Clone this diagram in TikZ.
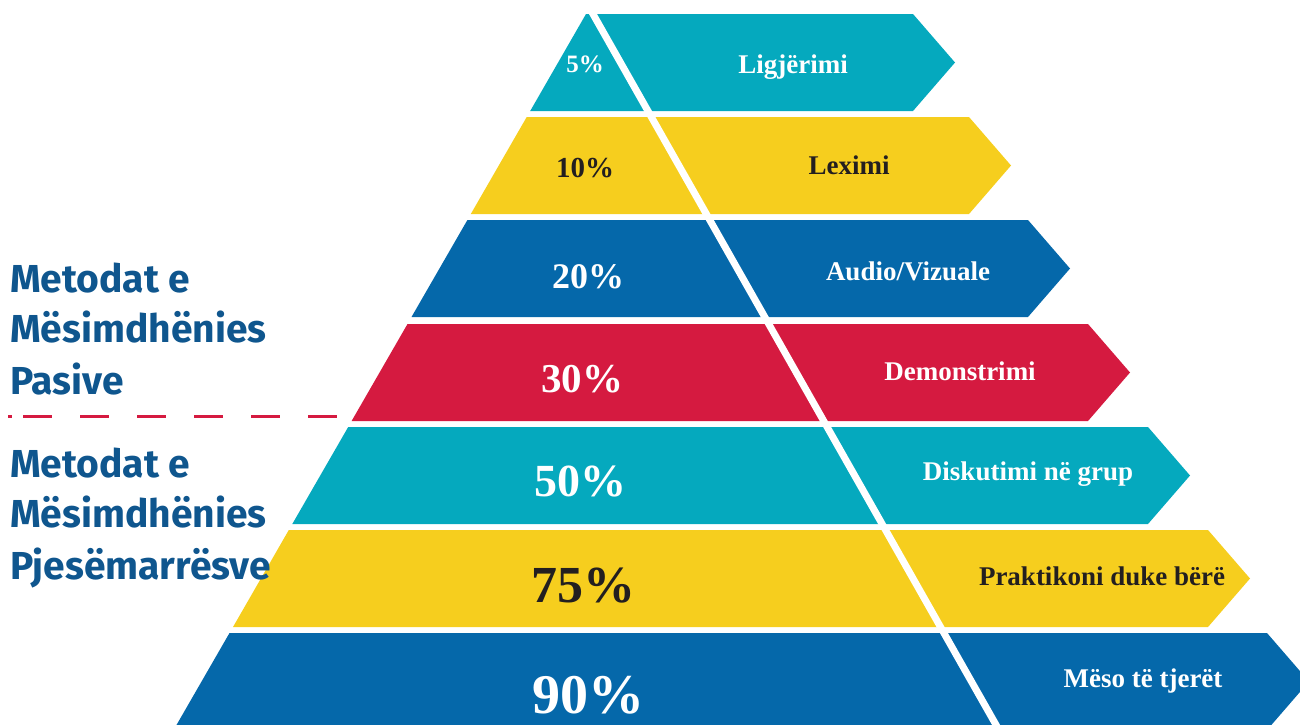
\documentclass[tikz,border=0pt]{standalone}
\usepackage{fontspec}
\setmainfont{Liberation Serif}
\setsansfont{Fira Sans}
\usepackage{tikz}
\usetikzlibrary{positioning}
\usetikzlibrary{calc}

\definecolor{pyrteal}{HTML}{05A9BE}
\definecolor{pyryellow}{HTML}{F6CE1E}
\definecolor{pyrblue}{HTML}{0568AA}
\definecolor{pyrred}{HTML}{D51A40}
\definecolor{headblue}{HTML}{0F568E}
\definecolor{darktext}{HTML}{231F20}

\tikzstyle{pct}=[inner sep=0pt, anchor=base]
\tikzstyle{lbl}=[font=\bfseries\fontsize{27}{27}\selectfont, inner sep=0pt, anchor=base]
\tikzstyle{heading}=[font=\sffamily\bfseries\fontsize{39}{51}\selectfont, text=headblue, inner sep=0pt, anchor=base west]
\tikzstyle{divider}=[white, line width=7pt]
\tikzstyle{dashline}=[pyrred, line width=3pt, dash pattern=on 4pt off 11pt on 29pt off 28pt on 29pt off 28pt on 29pt off 28pt on 29pt off 28pt on 29pt off 28pt on 29pt off 28pt]

\begin{document}
\begin{tikzpicture} [
            x=1pt, y=-1pt
        ]
        \useasboundingbox (0,0) rectangle (1300,724);
        \clip (0,0) rectangle (1300,724);
        % rows of the pyramid
        \fill[pyrteal] (586.0,14) -- (913,14) -- (955,62.5) -- (913,111) -- (530.2,111) -- cycle;
        \fill[pyryellow] (526.7,117) -- (969,117) -- (1011,165.5) -- (969,214) -- (470.8,214) -- cycle;
        \fill[pyrblue] (467.4,220) -- (1028,220) -- (1070,268.5) -- (1028,317) -- (411.5,317) -- cycle;
        \fill[pyrred] (407.5,324) -- (1088,324) -- (1130,372.5) -- (1088,421) -- (351.6,421) -- cycle;
        \fill[pyrteal] (348.2,427) -- (1148,427) -- (1190,475.5) -- (1148,524) -- (292.3,524) -- cycle;
        \fill[pyryellow] (288.8,530) -- (1208,530) -- (1250,578.5) -- (1208,627) -- (233.0,627) -- cycle;
        \fill[pyrblue] (229.5,633) -- (1267,633) -- (1309,681.5) -- (1267,730) -- (173.6,730) -- cycle;
        % white cut
        \coordinate (divtop) at (587.3,4);
        \coordinate (divbot) at (1001.2,734);
        \draw[divider] (divtop) -- (divbot);
        % percentages
        \node[pct, text=white, font=\bfseries\fontsize{25}{25}\selectfont] (p5) at (585,72) {5\%};
        \node[pct, text=darktext, font=\bfseries\fontsize{29}{29}\selectfont] (p10) at (585,177) {10\%};
        \node[pct, text=white, font=\bfseries\fontsize{36}{36}\selectfont] (p20) at (588,288) {20\%};
        \node[pct, text=white, font=\bfseries\fontsize{41}{41}\selectfont] (p30) at (582,392) {30\%};
        \node[pct, text=white, font=\bfseries\fontsize{46}{46}\selectfont] (p50) at (580,496) {50\%};
        \node[pct, text=darktext, font=\bfseries\fontsize{52}{52}\selectfont] (p75) at (583,602) {75\%};
        \node[pct, text=white, font=\bfseries\fontsize{56}{56}\selectfont] (p90) at (588,713) {90\%};
        % methods
        \node[lbl, text=white] (ligjerimi) at (793,73) {Ligjërimi};
        \node[lbl, text=darktext] (leximi) at (849,174) {Leximi};
        \node[lbl, text=white] (audio) at (908,280) {Audio/Vizuale};
        \node[lbl, text=white] (demo) at (960,380) {Demonstrimi};
        \node[lbl, text=white] (diskutimi) at (1028,480) {Diskutimi në grup};
        \node[lbl, text=darktext] (praktikoni) at (1102,585) {Praktikoni duke bërë};
        \node[lbl, text=white] (meso) at (1143,687) {Mëso të tjerët};
        % left headings
        \node[heading] (pas1) at (10,292) {Metodat e};
        \node[heading] (pas2) at (10,342) {Mësimdhënies};
        \node[heading] (pas3) at (10,394) {Pasive};
        \coordinate (dashstart) at (8,416);
        \coordinate (dashend) at (337,416);
        \draw[dashline] (dashstart) -- (dashend);
        \node[heading] (pje1) at (10,477) {Metodat e};
        \node[heading] (pje2) at (10,527) {Mësimdhënies};
        \node[heading] (pje3) at (10,579) {Pjesëmarrësve};
    \end{tikzpicture}
\end{document}
